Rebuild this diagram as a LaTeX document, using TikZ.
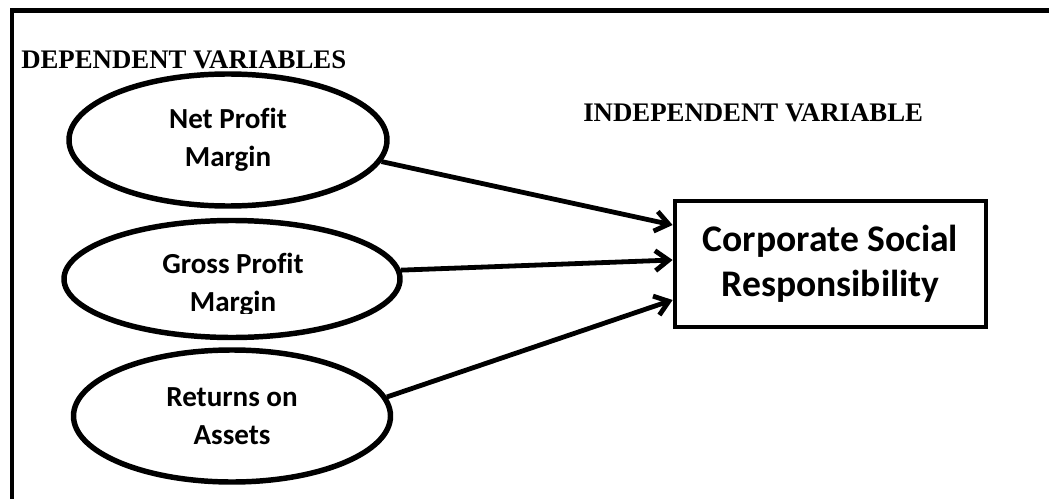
\documentclass[tikz,border=0pt]{standalone}
\usepackage{fontspec}
\setmainfont{Liberation Serif}
\newfontfamily\calibfont[Ligatures=NoCommon]{Carlito}
\usetikzlibrary{arrows.meta,shapes.geometric}

\begin{document}
\begin{tikzpicture}[x=0.75pt,y=-0.75pt,
  oval/.style={ellipse, draw, line width=4.1pt, inner sep=0pt, align=center,
    font=\calibfont\bfseries\fontsize{21.8}{28.5}\selectfont},
  ovaltext/.style={inner sep=0pt, align=center,
    font=\calibfont\bfseries\fontsize{21.8}{28.5}\selectfont},
  mainbox/.style={rectangle, draw, line width=3.6pt, inner sep=0pt, align=center,
    minimum width=233.25pt, minimum height=94.5pt,
    font=\calibfont\bfseries\fontsize{28.2}{33.75}\selectfont},
  heading/.style={inner sep=0pt, anchor=base west,
    font=\bfseries\fontsize{20.1}{24}\selectfont},
  conn/.style={line width=3.6pt, -{Straight Barb[length=10pt,width=15pt]}}
]
\useasboundingbox (0,0) rectangle (1049,499);
\clip (0,0) rectangle (1049,499);

% outer frame (only top and left edges fall inside the page)
\draw[line width=3.2pt] (12.2,540) |- (1090,10.5);

% headings
\node[heading] (dep) at (21,69) {DEPENDENT VARIABLES};
\node[heading] (indep) at (583,122) {INDEPENDENT VARIABLE};

% dependent variables
\node[oval, minimum width=238.5pt, minimum height=99pt] (npm) at (228,140)
  {Net Profit\\Margin};
\node[oval, minimum width=252pt, minimum height=87.75pt] (gpm) at (232,279) {};
\begin{scope}
  \clip (0,0) rectangle (1049,313.5);
  \node[ovaltext] (gpmtext) at (233,285) {Gross Profit\\Margin};
\end{scope}
\node[oval, minimum width=237.75pt, minimum height=99pt] (roa) at (232,416)
  {Returns on\\Assets};

% independent variable
\node[mainbox] (csr) at (830.5,264) {Corporate Social\\Responsibility};

% connectors
\draw[conn] (npm.-8) -- ([yshift=29.25pt]csr.west);
\draw[conn] (gpm.3) -- ([yshift=3pt]csr.west);
\draw[conn] (roa.7) -- ([yshift=-27pt]csr.west);
\end{tikzpicture}
\end{document}
